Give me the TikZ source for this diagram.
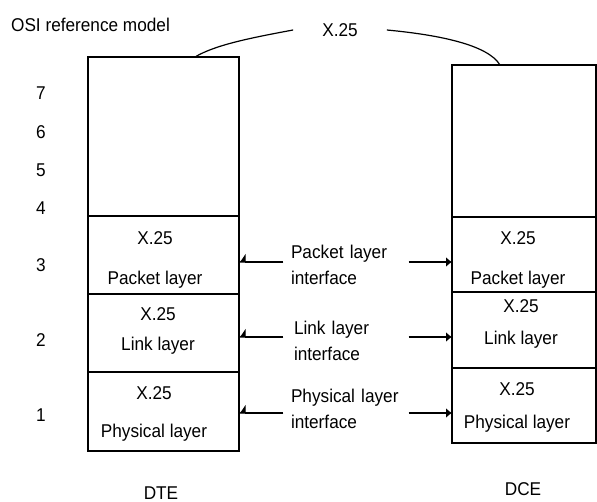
\documentclass[tikz,border=0pt]{standalone}
\usepackage{fontspec}
\setmainfont{Liberation Sans}[FakeStretch=0.93]
\usetikzlibrary{arrows.meta}

\tikzset{
  layerbox/.style={draw, line width=1.2pt, inner sep=0pt, outer sep=0pt},
  lbl/.style={align=center, inner sep=0pt},
  iface/.style={align=left, text width=110pt, inner xsep=7.5pt, inner ysep=0pt},
  inarrow/.style={line width=1.2pt, -{Latex[right, length=6pt, width=18pt]}},
  outarrow/.style={line width=1.2pt, -{Latex[length=6pt, width=10pt]}}
}

\begin{document}
\begin{tikzpicture}[x=1pt, y=-1pt, every node/.style={font=\fontsize{18.5}{26}\selectfont}]
    \useasboundingbox (0,0) rectangle (597,502);
    % DTE stack
    \node[layerbox, minimum width=151pt, minimum height=159pt] (dte7) at (163.5,136.5) {};
    \node[layerbox, minimum width=151pt, minimum height=78pt] (dte3) at (163.5,255) {};
    \node[layerbox, minimum width=151pt, minimum height=78pt] (dte2) at (163.5,333) {};
    \node[layerbox, minimum width=151pt, minimum height=79pt] (dte1) at (163.5,411.5) {};
    \node[lbl] (dte3txt) at (155,260) {X.25\\[14pt]Packet layer};
    \node[lbl] (dte2txt) at (158,331) {X.25\\[4pt]Link layer};
    \node[lbl] (dte1txt) at (154,414) {X.25\\[12pt]Physical layer};
    % DCE stack
    \node[layerbox, minimum width=144pt, minimum height=152pt] (dce7) at (524,141) {};
    \node[layerbox, minimum width=144pt, minimum height=75pt] (dce3) at (524,254.5) {};
    \node[layerbox, minimum width=144pt, minimum height=76pt] (dce2) at (524,330) {};
    \node[layerbox, minimum width=144pt, minimum height=75pt] (dce1) at (524,405.5) {};
    \node[lbl] (dce3txt) at (518,260) {X.25\\[14pt]Packet layer};
    \node[lbl] (dce2txt) at (521,324) {X.25\\[6pt]Link layer};
    \node[lbl] (dce1txt) at (517,407) {X.25\\[7pt]Physical layer};
    % layer numbers
    \foreach \n/\y in {7/93, 6/132, 5/170, 4/208, 3/265, 2/340, 1/415}
        \node[lbl] (num\n) at (41,\y) {\n};
    % interfaces
    \node[iface] (pif) at (346,264.8) {Packet layer\\interface};
    \node[iface] (lif) at (346,340.7) {\hspace*{3pt}Link layer\\\hspace*{3pt}interface};
    \node[iface] (phif) at (346,408.7) {Physical layer\\interface};
    \draw[inarrow] ([yshift=2.8pt]pif.west) -- ([yshift=2.8pt]pif.west -| dte3.east);
    \draw[outarrow] ([yshift=2.8pt]pif.east) -- ([yshift=2.8pt]pif.east -| dce3.west);
    \draw[inarrow] ([yshift=3.7pt]lif.west) -- ([yshift=3.7pt]lif.west -| dte2.east);
    \draw[outarrow] ([yshift=3.7pt]lif.east) -- ([yshift=3.7pt]lif.east -| dce2.west);
    \draw[inarrow] ([yshift=-4.3pt]phif.west) -- ([yshift=-4.3pt]phif.west -| dte1.east);
    \draw[outarrow] ([yshift=-4.3pt]phif.east) -- ([yshift=-4.3pt]phif.east -| dce1.west);
    % titles
    \node[lbl] (osi) at (90.5,25) {OSI reference model};
    \node[lbl, inner xsep=29pt] (x25) at (340,30) {X.25};
    \draw[line width=1.2pt] ([xshift=31.5pt]dte7.north) .. controls (215,45) and (250,38) .. (x25.west);
    \draw[line width=1.2pt] (x25.east) .. controls (440,35) and (488,45) .. ([xshift=-24pt]dce7.north);
    \node[lbl] (dte) at (161,493) {DTE};
    \node[lbl] (dce) at (523,489) {DCE};
\end{tikzpicture}
\end{document}
